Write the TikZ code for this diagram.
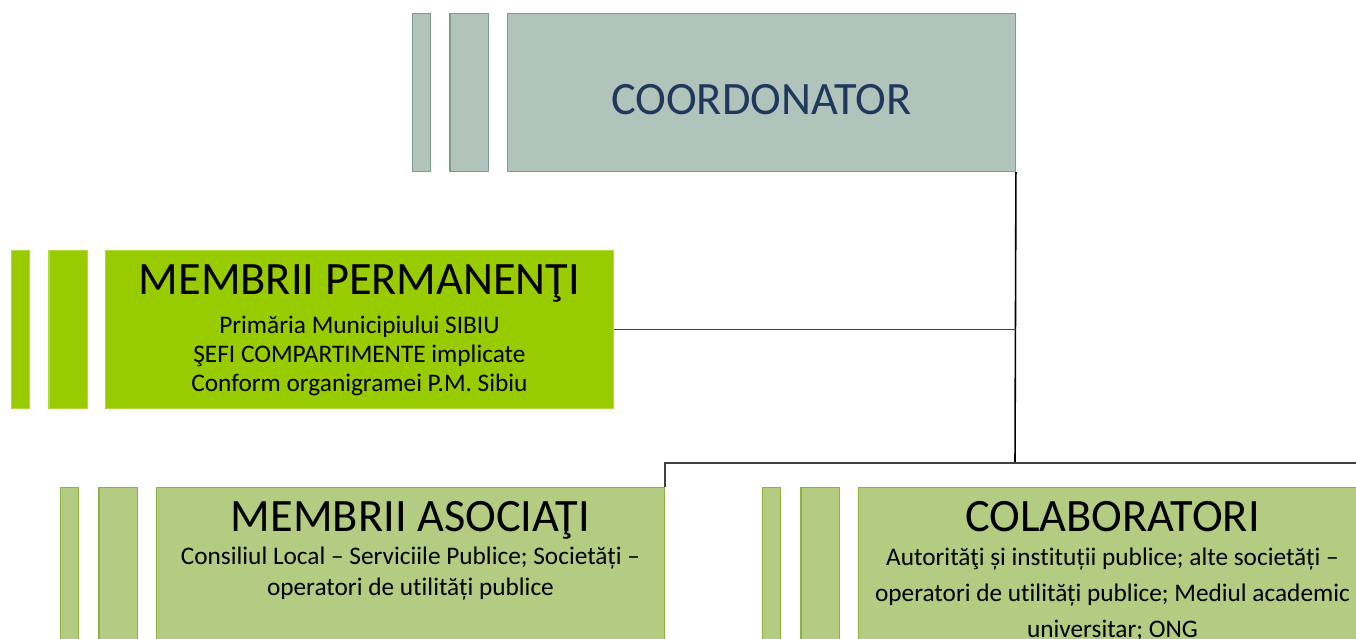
\documentclass[tikz,border=0pt]{standalone}
\usepackage{fontspec}
\setmainfont[Ligatures={NoCommon}]{Carlito}
\usepackage{tikz}
\usetikzlibrary{positioning}

\definecolor{greyfill}{RGB}{176,196,188}
\definecolor{greyedge}{RGB}{122,156,140}
\definecolor{navytext}{RGB}{31,56,92}
\definecolor{limefill}{RGB}{153,204,0}
\definecolor{limeedge}{RGB}{178,218,60}
\definecolor{olivefill}{RGB}{179,204,130}
\definecolor{oliveedge}{RGB}{140,180,60}
\definecolor{wire}{RGB}{64,64,64}

\tikzstyle{box} = [minimum width=10.16cm, minimum height=3.16cm, inner sep=0pt, line width=0.6pt]
\tikzstyle{thinbar} = [minimum width=0.37cm, minimum height=3.16cm, inner sep=0pt, line width=0.6pt]
\tikzstyle{widebar} = [minimum width=0.77cm, minimum height=3.16cm, inner sep=0pt, line width=0.6pt]
\tikzstyle{grey} = [fill=greyfill, draw=greyedge]
\tikzstyle{lime} = [fill=limefill, draw=limeedge]
\tikzstyle{olive} = [fill=olivefill, draw=oliveedge]
\tikzstyle{title} = [anchor=base, inner sep=0pt, font=\fontsize{26.4}{32}\selectfont]
\tikzstyle{subtext} = [anchor=base, inner sep=0pt, font=\fontsize{14.4}{17}\selectfont]
\tikzstyle{link} = [line width=0.9pt, draw=wire]

\begin{document}
\begin{tikzpicture}[x=0.02cm, y=-0.02cm]
  \clip (0,0) rectangle (1356,639);

  % Coordinator at the top
  \node[box, grey, anchor=north west] (coord) at (507,13) {};
  \node[widebar, grey, left=0.36cm of coord] (coordB) {};
  \node[thinbar, grey, left=0.36cm of coordB] (coordA) {};
  \node[title, text=navytext] (coordT) at ([yshift=-2.04cm]coord.north) {COORDONATOR};

  % Permanent members
  \node[box, lime, anchor=north west] (perm) at (105,250) {};
  \node[widebar, lime, left=0.34cm of perm] (permB) {};
  \node[thinbar, lime, left=0.36cm of permB] (permA) {};
  \node[title] (permT) at ([yshift=-0.9cm]perm.north) {MEMBRII PERMANENŢI};
  \foreach \t/\d [count=\i] in {Primăria Municipiului SIBIU/1.68,
                                ŞEFI COMPARTIMENTE implicate/2.26,
                                Conform organigramei P.M. Sibiu/2.84}
    \node[subtext] (perm-\i) at ([yshift=-\d cm]perm.north) {\t};

  % Associated members
  \node[box, olive, anchor=north west] (asoc) at (156,487) {};
  \node[widebar, olive, left=0.36cm of asoc] (asocB) {};
  \node[thinbar, olive, left=0.38cm of asocB] (asocA) {};
  \node[title] (asocT) at ([yshift=-0.9cm]asoc.north) {MEMBRII ASOCIAŢI};
  \foreach \t/\d [count=\i] in {Consiliul Local – Serviciile Publice; Societăți –/1.56,
                                operatori de utilități publice/2.18}
    \node[subtext] (asoc-\i) at ([yshift=-\d cm]asoc.north) {\t};

  % Collaborators
  \node[box, olive, anchor=north west] (colab) at (858,487) {};
  \node[widebar, olive, left=0.36cm of colab] (colabB) {};
  \node[thinbar, olive, left=0.38cm of colabB] (colabA) {};
  \node[title] (colabT) at ([yshift=-0.9cm]colab.north) {COLABORATORI};
  \foreach \t/\d [count=\i] in {Autorităţi și instituții publice; alte societăți –/1.58,
                                operatori de utilități publice; Mediul academic/2.30,
                                universitar; ONG/3.02}
    \node[subtext] (colab-\i) at ([yshift=-\d cm]colab.north) {\t};

  % Connectors
  \coordinate (hub) at (1015,463);
  \draw[line width=0.9pt, black] (coord.south east) -- (hub);
  \draw[link] (perm.east) -- (perm.east -| coord.south east);
  \draw[link] (asoc.north east) -- (asoc.north east |- hub) -- (colab.north east |- hub) -- (colab.north east);
\end{tikzpicture}
\end{document}
